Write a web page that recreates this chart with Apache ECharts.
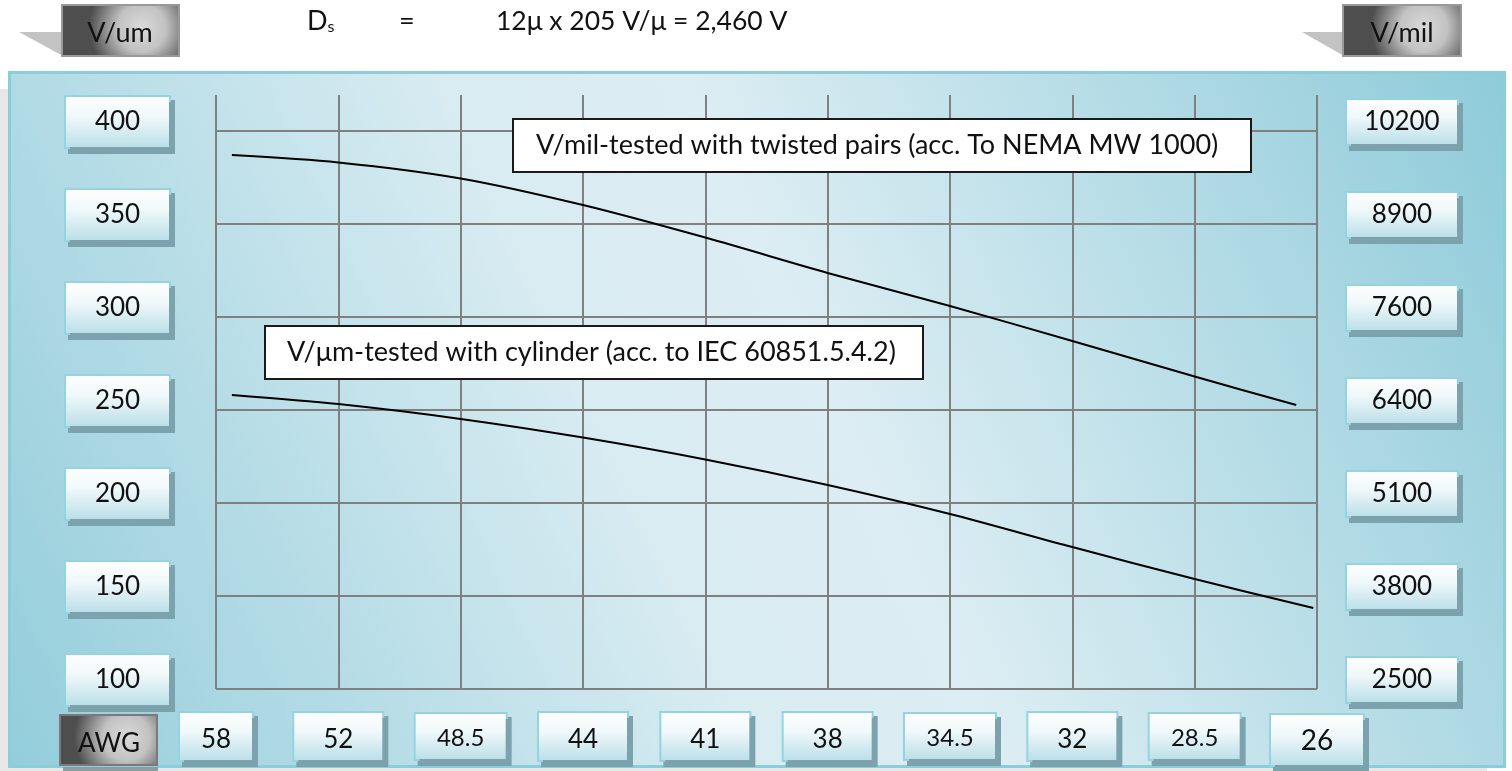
<!DOCTYPE html>
<html><head><meta charset="utf-8">
<script src="https://cdn.jsdelivr.net/npm/echarts@6/dist/echarts.min.js"></script>
<style>html,body{margin:0;padding:0;background:#fff}#c{width:1512px;height:771px}</style>
</head><body><div id="c"></div>
<script>
// ---- data ----
const awgLabels = ['58', '52', '48.5', '44', '41', '38', '34.5', '32', '28.5', '26'];
const leftTicks = [100, 150, 200, 250, 300, 350, 400];
const rightTickLabels = ['2500', '3800', '5100', '6400', '7600', '8900', '10200'];
// x given as position along the AWG axis (0 = AWG 58 ... 9 = AWG 26), y in V/um
const twistedX = [0.13, 1, 2, 3, 4, 5, 6, 7, 8, 8.83];
const twistedY = [387.1, 383.1, 374.5, 360.2, 342.7, 323.7, 305.9, 287.1, 268.0, 252.7];
const cylinderX = [0.13, 1, 2, 3, 4, 5, 6, 7, 8, 8.97];
const cylinderY = [258.1, 253.2, 245.2, 235.2, 223.4, 209.7, 194.1, 176.3, 159.1, 143.5];
const twistedName = 'V/mil-tested with twisted pairs (acc. To NEMA MW 1000)';
const cylinderName = 'V/μm-tested with cylinder (acc. to IEC 60851.5.4.2)';

const FONT = 'Lato, "Noto Sans", sans-serif';
const GRID = '#808080';

function boxStyle(w, h, fs, padTop) {
  return {
    width: w, height: h, lineHeight: h, align: 'center', verticalAlign: 'middle',
    padding: [padTop || 0, 0, 0, 0],
    fontSize: fs, fontFamily: FONT, color: '#111',
    backgroundColor: {type: 'linear', x: 0, y: 0, x2: 0, y2: 1, colorStops: [
      {offset: 0, color: '#ffffff'}, {offset: 0.4, color: '#f0f8fa'}, {offset: 1, color: '#b8dee7'}]},
    borderColor: '#96d3e0', borderWidth: 2,
    shadowColor: '#7ba2ad', shadowOffsetX: 4, shadowOffsetY: 5, shadowBlur: 0
  };
}
const gap = h => ({height: h, lineHeight: h, fontSize: 4, width: 10});
const darkFill = {type: 'radial', x: 0.68, y: 0.45, r: 1.0, colorStops: [
  {offset: 0, color: '#dadada'}, {offset: 0.45, color: '#c2c2c2'}, {offset: 1, color: '#4e4e4e'}]};

const chart = echarts.init(document.getElementById('c'));
const ymax = 400 + 36 / 1.86;
const plainText = (fs) => ({fontSize: fs, fontWeight: 'normal', fontFamily: FONT, color: '#111'});

chart.setOption({
  animation: false,
  textStyle: {fontFamily: FONT},
  grid: {left: 216, right: 195, top: 95, bottom: 82},
  title: [
    {left: 302, top: 3, text: '{a|D}{s|s}', textStyle: {rich: {
      a: {fontSize: 27, fontWeight: 'normal', fontFamily: FONT, color: '#111'},
      s: {fontSize: 16, fontWeight: 'normal', fontFamily: FONT, color: '#111', padding: [11, 0, 0, 0]}}}},
    {left: 394, top: 3, text: '=', textStyle: plainText(27)},
    {left: 491, top: 3, text: '12μ x 205 V/μ = 2,460 V', textStyle: plainText(26.5)},
    {left: 513, top: 119, text: twistedName, backgroundColor: '#fff', borderColor: '#1a1a1a', borderWidth: 2,
      padding: [11, 10, 11, 23], textStyle: Object.assign(plainText(27), {lineHeight: 31, width: 705})},
    {left: 265, top: 326, text: cylinderName, backgroundColor: '#fff', borderColor: '#1a1a1a', borderWidth: 2,
      padding: [11, 10, 11, 22], textStyle: Object.assign(plainText(27), {lineHeight: 31, width: 626})}
  ],
  graphic: [
    {type: 'rect', z: -20, shape: {x: 0, y: 89, width: 1487, height: 700}, style: {fill: '#e7e7e7'}},
    {type: 'rect', z: -19, shape: {x: 9.5, y: 72.5, width: 1495, height: 694},
      style: {stroke: '#8ccdda', lineWidth: 3, fill: {type: 'linear', x: 0, y: 1, x2: 1, y2: 0, colorStops: [
        {offset: 0, color: '#93cddb'}, {offset: 0.42, color: '#d9ecf2'}, {offset: 0.55, color: '#dcedf3'}, {offset: 1, color: '#8ecbd9'}]}}},
    {type: 'polygon', z: 5, shape: {points: [[19, 32], [63, 32], [63, 56]]}, style: {fill: '#c3c3c3'}},
    {type: 'polygon', z: 5, shape: {points: [[1302, 32], [1344, 32], [1344, 56]]}, style: {fill: '#c3c3c3'}},
    {type: 'rect', z: 6, shape: {x: 62, y: 5, width: 117, height: 51}, style: {fill: darkFill, stroke: '#999', lineWidth: 2}},
    {type: 'text', z: 7, style: {text: 'V/um', x: 120, y: 33, align: 'center', verticalAlign: 'middle', fontSize: 27, fontFamily: FONT, fill: '#111'}},
    {type: 'rect', z: 6, shape: {x: 1343, y: 5, width: 118, height: 51}, style: {fill: darkFill, stroke: '#999', lineWidth: 2}},
    {type: 'text', z: 7, style: {text: 'V/mil', x: 1402, y: 33, align: 'center', verticalAlign: 'middle', fontSize: 27, fontFamily: FONT, fill: '#111'}},
    {type: 'rect', z: 6, shape: {x: 63, y: 767, width: 95, height: 6}, style: {fill: '#8a9ea4'}},
    {type: 'rect', z: 6, shape: {x: 60, y: 715, width: 97, height: 50}, style: {fill: darkFill, stroke: '#7a7a7a', lineWidth: 2}},
    {type: 'text', z: 7, style: {text: 'AWG', x: 109, y: 744, align: 'center', verticalAlign: 'middle', fontSize: 26, fontFamily: FONT, fill: '#111'}}
  ],
  xAxis: [
    {type: 'category', data: awgLabels, boundaryGap: false,
      axisLine: {show: false}, axisTick: {show: false},
      splitLine: {show: true, lineStyle: {color: GRID, width: 2}},
      axisLabel: {margin: 27, interval: 0,
        formatter: (v, i) => i === 0 ? '{n|' + v + '}' : (i === awgLabels.length - 1 ? '{t|' + v + '}' : (v.indexOf('.') >= 0 ? '{s|' + v + '}' : '{b|' + v + '}')),
        rich: {n: boxStyle(72, 41, 26, 6), b: boxStyle(88, 41, 26, 6), s: boxStyle(90, 41, 24, 4), t: boxStyle(92, 48, 28, 2)}}},
    {type: 'value', min: 0, max: 9, show: false}
  ],
  yAxis: [
    {type: 'value', position: 'left', min: 100, max: ymax, interval: 50,
      axisLine: {show: false},
      axisTick: {show: false, customValues: leftTicks},
      splitLine: {show: true, lineStyle: {color: GRID, width: 2}},
      axisLabel: {margin: 47, customValues: leftTicks,
        formatter: v => leftTicks.indexOf(v) >= 0 ? '{b|' + v + '}\n{g| }' : '',
        rich: {b: boxStyle(103, 50, 26), g: gap(18)}}},
    {type: 'value', position: 'right', min: 100, max: ymax, interval: 50,
      axisLine: {show: false},
      axisTick: {show: false, customValues: leftTicks},
      splitLine: {show: false},
      axisLabel: {margin: 30, customValues: leftTicks,
        formatter: v => leftTicks.indexOf(v) >= 0 ? '{b|' + rightTickLabels[leftTicks.indexOf(v)] + '}\n{g| }' : '',
        rich: {b: boxStyle(110, 44, 26), g: gap(18)}}}
  ],
  series: [
    {name: twistedName, type: 'line', xAxisIndex: 1, yAxisIndex: 0, smooth: 0.3, showSymbol: false, z: 3,
      lineStyle: {color: '#000', width: 2}, data: twistedX.map((x, i) => [x, twistedY[i]])},
    {name: cylinderName, type: 'line', xAxisIndex: 1, yAxisIndex: 0, smooth: 0.3, showSymbol: false, z: 3,
      lineStyle: {color: '#000', width: 2}, data: cylinderX.map((x, i) => [x, cylinderY[i]])}
  ]
});
</script></body></html>
